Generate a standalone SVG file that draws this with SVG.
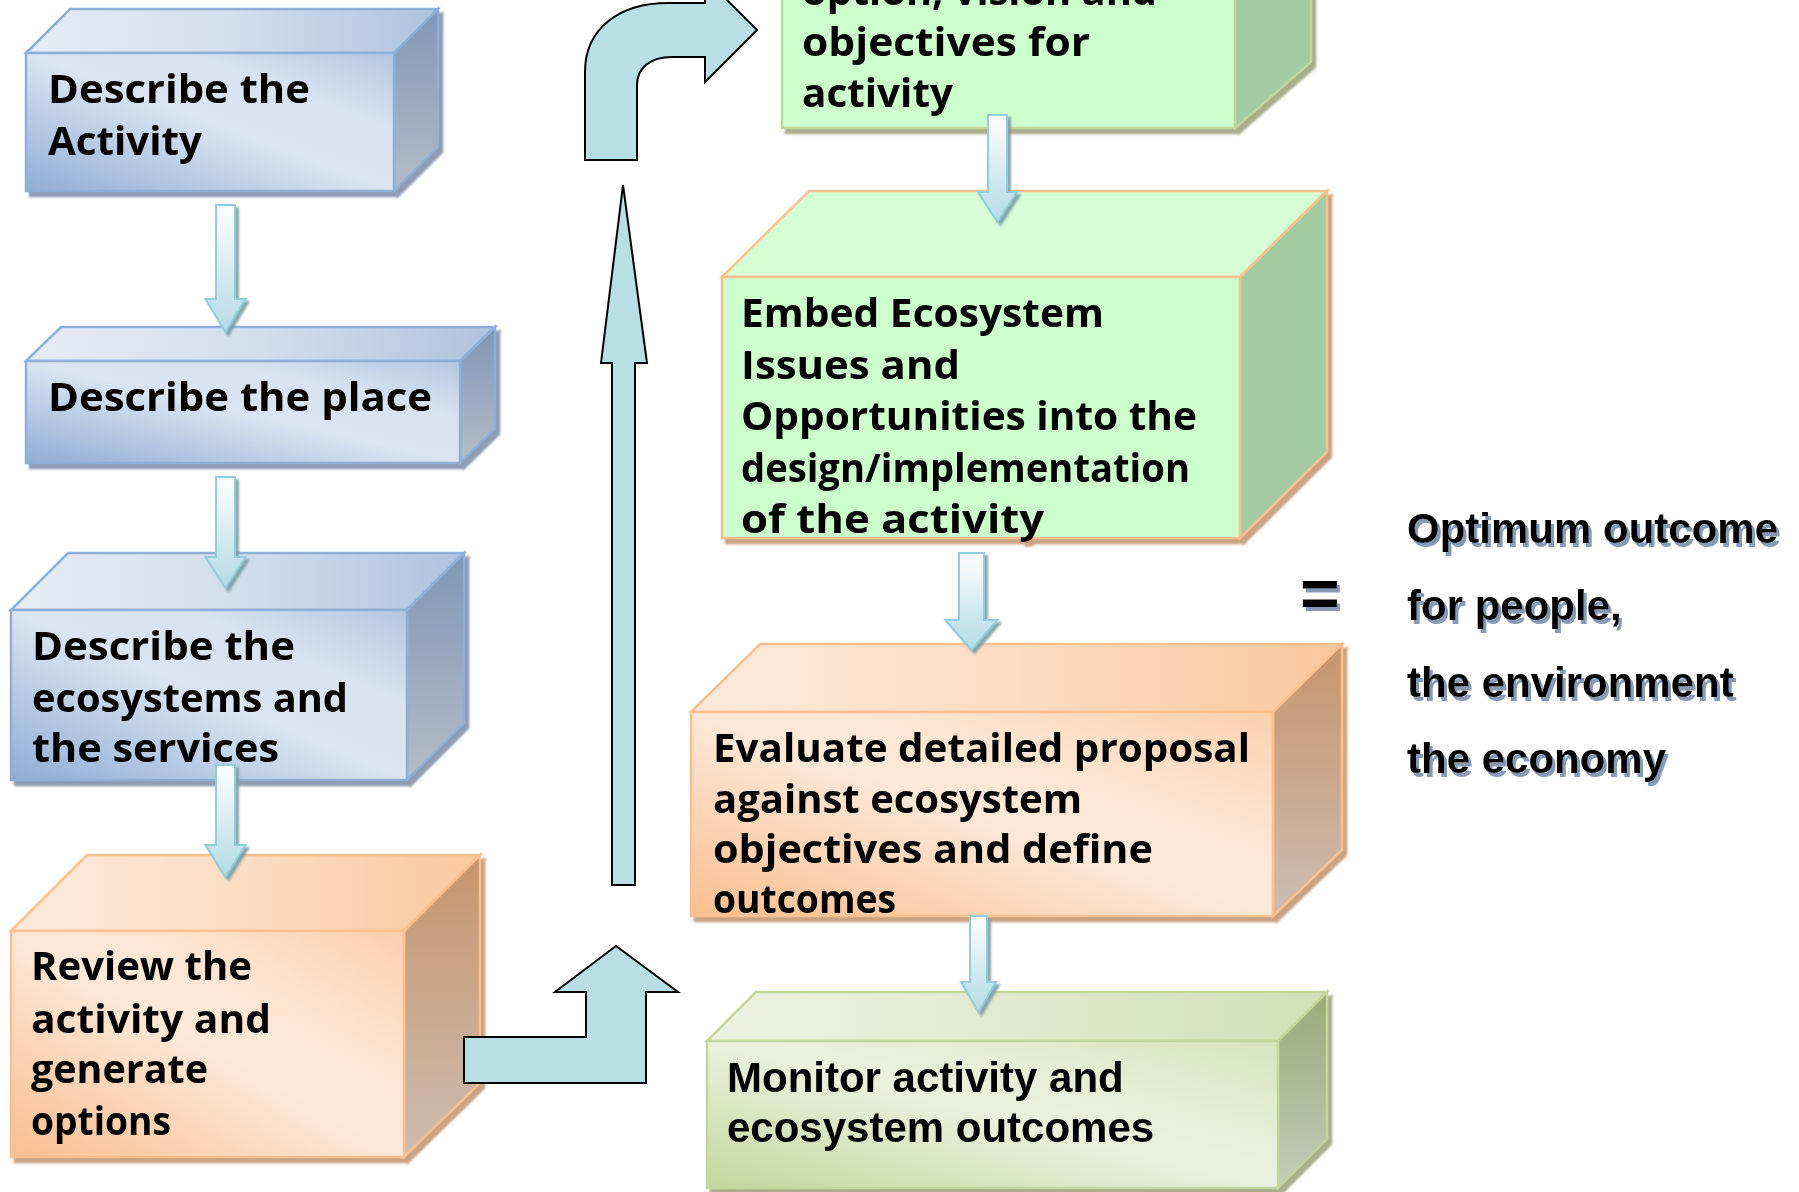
<svg xmlns="http://www.w3.org/2000/svg" width="1799" height="1192" viewBox="0 0 1799 1192">
<defs>
<linearGradient id="bF" x1="0" y1="1" x2="1" y2="0"><stop offset="0" stop-color="#8fadd6"/><stop offset="0.5" stop-color="#dbe5f1"/><stop offset="0.72" stop-color="#d9e3f0"/><stop offset="1" stop-color="#b3c7e2"/></linearGradient>
<linearGradient id="bT" x1="0" y1="0" x2="1" y2="0"><stop offset="0" stop-color="#e6ecf5"/><stop offset="0.5" stop-color="#d3deee"/><stop offset="1" stop-color="#aec3df"/></linearGradient>
<linearGradient id="bR" x1="0" y1="0" x2="0" y2="1"><stop offset="0" stop-color="#7f97b8"/><stop offset="1" stop-color="#b4bcc8"/></linearGradient>
<linearGradient id="oF" x1="0" y1="1" x2="1" y2="0"><stop offset="0" stop-color="#f9be8e"/><stop offset="0.5" stop-color="#fde9d9"/><stop offset="0.7" stop-color="#fde4d0"/><stop offset="1" stop-color="#fbd0ac"/></linearGradient>
<linearGradient id="oT" x1="0" y1="0" x2="1" y2="0"><stop offset="0" stop-color="#fdeadb"/><stop offset="0.5" stop-color="#fcdcc2"/><stop offset="1" stop-color="#f9c89c"/></linearGradient>
<linearGradient id="oR" x1="0" y1="0" x2="0" y2="1"><stop offset="0" stop-color="#c7956b"/><stop offset="1" stop-color="#cdbcb0"/></linearGradient>
<linearGradient id="mF" x1="0" y1="1" x2="1" y2="0"><stop offset="0" stop-color="#c4d79b"/><stop offset="0.5" stop-color="#ebf1de"/><stop offset="0.7" stop-color="#e6eed5"/><stop offset="1" stop-color="#d7e4bc"/></linearGradient>
<linearGradient id="mT" x1="0" y1="0" x2="1" y2="0"><stop offset="0" stop-color="#eef3e2"/><stop offset="1" stop-color="#d3e0b6"/></linearGradient>
<linearGradient id="mR" x1="0" y1="0" x2="0" y2="1"><stop offset="0" stop-color="#98ab78"/><stop offset="1" stop-color="#c5cab9"/></linearGradient>
<linearGradient id="aG" x1="0" y1="0" x2="0" y2="1"><stop offset="0" stop-color="#ffffff"/><stop offset="0.75" stop-color="#c4e3ec"/><stop offset="1" stop-color="#b6dde8"/></linearGradient>
<filter id="shB" x="-5%" y="-5%" width="115%" height="115%"><feDropShadow dx="4" dy="5" stdDeviation="0.8" flood-color="#8e9bb0" flood-opacity="1"/></filter>
<filter id="shO" x="-5%" y="-5%" width="115%" height="115%"><feDropShadow dx="4" dy="5" stdDeviation="0.8" flood-color="#c9a183" flood-opacity="1"/></filter>
<filter id="shG" x="-5%" y="-5%" width="115%" height="115%"><feDropShadow dx="4" dy="5" stdDeviation="0.8" flood-color="#a8ad8c" flood-opacity="1"/></filter>
<filter id="shA" x="-30%" y="-5%" width="160%" height="115%"><feDropShadow dx="3" dy="3" stdDeviation="0.8" flood-color="#7d9ea6" flood-opacity="0.9"/></filter>
<filter id="shT" x="-5%" y="-10%" width="115%" height="130%"><feDropShadow dx="3" dy="4" stdDeviation="0.6" flood-color="#8899b3" flood-opacity="1"/></filter>
</defs>
<style>
.c{font-family:"Comic Sans MS","Open Sans",sans-serif;font-weight:bold;font-size:40px;fill:#000}
.a{font-family:"Liberation Sans",Arial,sans-serif;font-weight:bold;font-size:42px;fill:#000}
.bs{stroke:#8eb0d8;stroke-width:2.5;stroke-linejoin:miter}
.os{stroke:#fac090;stroke-width:2.5}
.gs{stroke:#c3d69b;stroke-width:2.5}
.big{fill:#b8dfe3;stroke:#000;stroke-width:2;stroke-linejoin:miter}
.sm{fill:url(#aG);stroke:#92cddc;stroke-width:2}
</style>
<rect width="1799" height="1192" fill="#ffffff"/>

<g id="box-activity" filter="url(#shB)">
<polygon class="bs" fill="url(#bT)" points="26,53 70,9 438,9 394,53"/>
<polygon class="bs" fill="url(#bR)" points="394,53 438,9 438,147 394,191"/>
<rect class="bs" fill="url(#bF)" x="26" y="53" width="368" height="138"/>
<text class="c" x="48" y="103" textLength="262" lengthAdjust="spacingAndGlyphs">Describe the</text>
<text class="c" x="48" y="155" textLength="154" lengthAdjust="spacingAndGlyphs">Activity</text>
</g>

<g id="box-place" filter="url(#shB)">
<polygon class="bs" fill="url(#bT)" points="26,361 61,327 495,327 460,361"/>
<polygon class="bs" fill="url(#bR)" points="460,361 495,327 495,429 460,463"/>
<rect class="bs" fill="url(#bF)" x="26" y="361" width="434" height="102"/>
<text class="c" x="48" y="411" textLength="384" lengthAdjust="spacingAndGlyphs">Describe the place</text>
</g>

<g id="box-ecosystems" filter="url(#shB)">
<polygon class="bs" fill="url(#bT)" points="11,610 68,553 464,553 407,610"/>
<polygon class="bs" fill="url(#bR)" points="407,610 464,553 464,723 407,780"/>
<rect class="bs" fill="url(#bF)" x="11" y="610" width="396" height="170"/>
<text class="c" x="32" y="660" textLength="263" lengthAdjust="spacingAndGlyphs">Describe the</text>
<text class="c" x="32" y="712" textLength="316" lengthAdjust="spacingAndGlyphs">ecosystems and</text>
<text class="c" x="32" y="762" textLength="247" lengthAdjust="spacingAndGlyphs">the services</text>
</g>

<g id="box-review" filter="url(#shO)">
<polygon class="os" fill="url(#oT)" points="11,931 87,855 480,855 404,931"/>
<polygon class="os" fill="url(#oR)" points="404,931 480,855 480,1083 404,1157"/>
<rect class="os" fill="url(#oF)" x="11" y="931" width="393" height="226"/>
<text class="c" x="31" y="980" textLength="221" lengthAdjust="spacingAndGlyphs">Review the</text>
<text class="c" x="31" y="1033" textLength="240" lengthAdjust="spacingAndGlyphs">activity and</text>
<text class="c" x="31" y="1083" textLength="177" lengthAdjust="spacingAndGlyphs">generate</text>
<text class="c" x="31" y="1135" textLength="140" lengthAdjust="spacingAndGlyphs">options</text>
</g>

<g id="box-option" filter="url(#shG)">
<polygon class="gs" fill="#a2cba2" points="1235,-300 1311,-366 1311,62 1235,128"/>
<rect class="gs" fill="#ccffcc" x="782" y="-300" width="453" height="428"/>
<text class="c" x="802" y="5" textLength="355" lengthAdjust="spacingAndGlyphs">option, vision and</text>
<text class="c" x="802" y="56" textLength="288" lengthAdjust="spacingAndGlyphs">objectives for</text>
<text class="c" x="802" y="107" textLength="151" lengthAdjust="spacingAndGlyphs">activity</text>
</g>

<g id="box-embed" filter="url(#shO)">
<polygon class="os" fill="#d6ffd6" points="722,277 809,191 1327,191 1240,277"/>
<polygon class="os" fill="#a2cba2" points="1240,277 1327,191 1327,452 1240,538"/>
<rect class="os" fill="#ccffcc" x="722" y="277" width="518" height="261"/>
<text class="c" x="741" y="327" textLength="363" lengthAdjust="spacingAndGlyphs">Embed Ecosystem</text>
<text class="c" x="741" y="379" textLength="219" lengthAdjust="spacingAndGlyphs">Issues and</text>
<text class="c" x="741" y="430" textLength="456" lengthAdjust="spacingAndGlyphs">Opportunities into the</text>
<text class="c" x="741" y="482" textLength="449" lengthAdjust="spacingAndGlyphs">design/implementation</text>
<text class="c" x="741" y="533" textLength="303" lengthAdjust="spacingAndGlyphs">of the activity</text>
</g>

<g id="box-evaluate" filter="url(#shO)">
<polygon class="os" fill="url(#oT)" points="691,712 760,644 1342,644 1273,712"/>
<polygon class="os" fill="url(#oR)" points="1273,712 1342,644 1342,850 1273,916"/>
<rect class="os" fill="url(#oF)" x="691" y="712" width="582" height="204"/>
<text class="c" x="713" y="762" textLength="537" lengthAdjust="spacingAndGlyphs">Evaluate detailed proposal</text>
<text class="c" x="713" y="813" textLength="369" lengthAdjust="spacingAndGlyphs">against ecosystem</text>
<text class="c" x="713" y="863" textLength="440" lengthAdjust="spacingAndGlyphs">objectives and define</text>
<text class="c" x="713" y="913" textLength="183" lengthAdjust="spacingAndGlyphs">outcomes</text>
</g>

<g id="box-monitor" filter="url(#shG)">
<polygon class="gs" fill="url(#mT)" points="707,1041 756,992 1327,992 1278,1041"/>
<polygon class="gs" fill="url(#mR)" points="1278,1041 1327,992 1327,1139 1278,1188"/>
<rect class="gs" fill="url(#mF)" x="707" y="1041" width="571" height="147"/>
<text class="a" x="727" y="1092">Monitor activity and</text>
<text class="a" x="727" y="1142">ecosystem outcomes</text>
</g>

<g id="result" filter="url(#shT)">
<text class="a" x="1300" y="617" style="font-size:68px">=</text>
<text class="a" x="1407" y="543">Optimum outcome</text>
<text class="a" x="1407" y="620">for people,</text>
<text class="a" x="1407" y="697">the environment</text>
<text class="a" x="1407" y="773">the economy</text>
</g>

<g id="connectors">
<path class="big" d="M612,885 V363 H601 L623,185 L647,363 H635 V885 Z"/>
<path class="big" d="M585,160 V72 C585,28 620,3 668,3 H705 V-22 L757,30 L705,82 V57 H672 C650,57 637,68 637,85 V160 Z"/>
<path class="big" d="M464,1037 H586 V992 H555 L616,946 L678,992 H646 V1083 H464 Z"/>
<g filter="url(#shA)">
<path class="sm" d="M216,205 H235 V299 H245.5 L225.5,332 L205.5,299 H216 Z"/>
<path class="sm" d="M216,477 H235 V557 H245.5 L225.5,588 L205.5,557 H216 Z"/>
<path class="sm" d="M216,765 H235 V845 H245.5 L225.5,877 L205.5,845 H216 Z"/>
<path class="sm" d="M988,115 H1007 V192 H1017 L997.5,222 L978,192 H988 Z"/>
<path class="sm" d="M959,553 H984 V620 H997.5 L971.5,650 L945.5,620 H959 Z"/>
<path class="sm" d="M970,916 H987 V982 H996 L978.5,1012 L961,982 H970 Z"/>
</g>
</g>
</svg>
